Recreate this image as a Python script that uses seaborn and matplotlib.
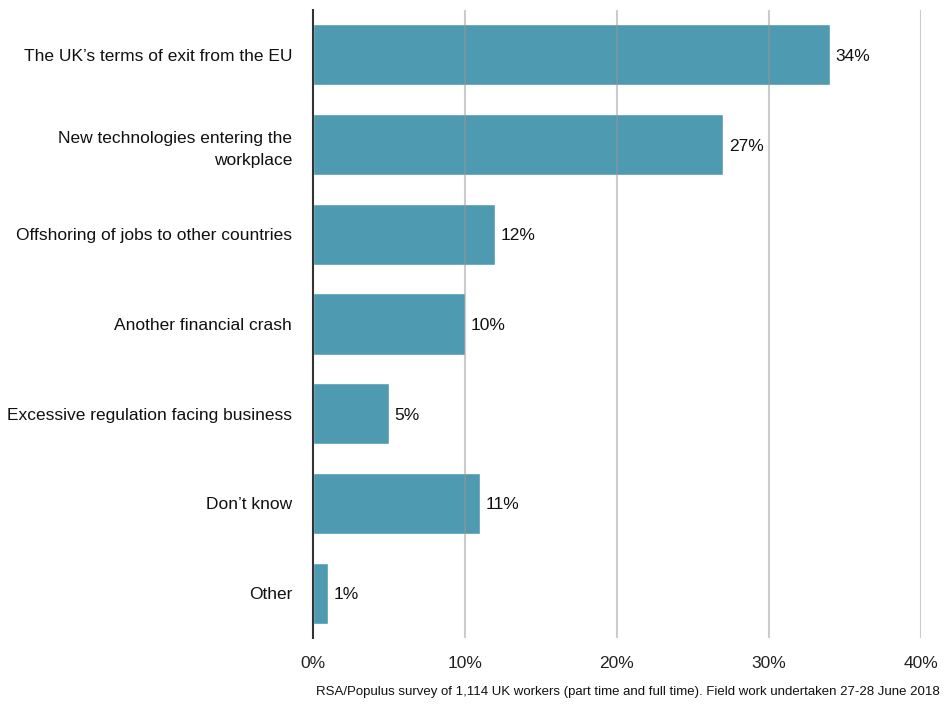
import matplotlib
matplotlib.use("Agg")
import matplotlib.pyplot as plt
import seaborn as sns
import pandas as pd

categories = [
    "The UK\u2019s terms of exit from the EU",
    "New technologies entering the\nworkplace",
    "Offshoring of jobs to other countries",
    "Another financial crash",
    "Excessive regulation facing business",
    "Don\u2019t know",
    "Other",
]
values = [34, 27, 12, 10, 5, 11, 1]
x_ticks = [0, 10, 20, 30, 40]
footnote = "RSA/Populus survey of 1,114 UK workers (part time and full time). Field work undertaken 27-28 June 2018"

sns.set_theme(style="white")
plt.rcParams['font.family'] = ['Liberation Sans', 'DejaVu Sans']

df = pd.DataFrame({"category": categories, "value": values})

fig = plt.figure(figsize=(9.5, 7.04), dpi=100)
ax = fig.add_axes([313/950, 1 - 638/704, (921 - 313)/950, (638 - 10)/704])

sns.barplot(data=df, y="category", x="value", orient="h", color="#4e9ab0",
            saturation=1, width=0.68, ax=ax, zorder=2)

ax.set_xlim(0, 40)
ax.set_ylim(6.5, -0.5)
ax.set_xticks(x_ticks)
ax.set_xticklabels([f"{t}%" for t in x_ticks], fontsize=12.5, color="#222222")
ax.tick_params(axis="y", labelsize=12.5, labelcolor="#111111", length=0, pad=15)
ax.tick_params(axis="x", length=0, pad=13)
for t in ax.get_yticklabels():
    t.set_multialignment("right")
    t.set_linespacing(1.55)
ax.set_xlabel("")
ax.set_ylabel("")

for t in x_ticks[1:]:
    ax.axvline(t, color="#999999", lw=1.5, alpha=0.5, zorder=3)

for s in ["top", "right", "bottom"]:
    ax.spines[s].set_visible(False)
ax.spines["left"].set_color("#333333")
ax.spines["left"].set_linewidth(1.5)
ax.spines["left"].set_zorder(4)

for i, v in enumerate(values):
    ax.text(v + 0.35, i, f"{v}%", va="center_baseline", ha="left", fontsize=12.5, color="#111111")

fig.text(940/950, 1 - 692/704, footnote, ha="right", va="center", fontsize=9.5, color="#111111")

fig.savefig("out.png", dpi=100)
